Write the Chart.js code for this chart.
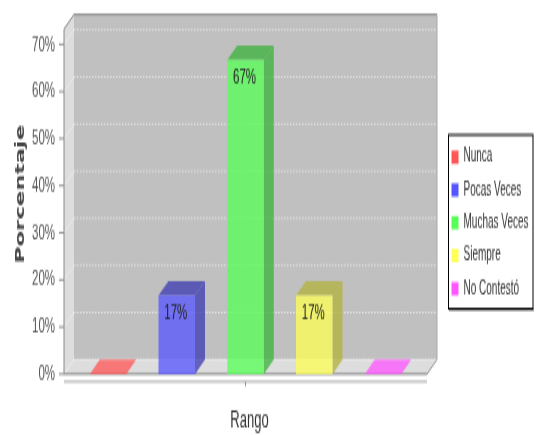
<!DOCTYPE html>
<html><head><meta charset="utf-8">
<style>
html,body{margin:0;padding:0;background:#fff;overflow:hidden;width:544px;height:435px}
canvas{display:block;transform-origin:0 0;transform:scale(1,1.8996);filter:blur(0.4px)}
</style>
<script src="https://cdn.jsdelivr.net/npm/chart.js@4"></script>
</head><body>
<canvas id="c" width="544" height="229"></canvas>
<script>
const categories = [""];
const seriesNames = ["Nunca", "Pocas Veces", "Muchas Veces", "Siempre", "No Contestó"];
const nunca = [0];
const pocasVeces = [16.67];
const muchasVeces = [66.67];
const siempre = [16.67];
const noContesto = [0];
const seriesValues = [nunca, pocasVeces, muchasVeces, siempre, noContesto];
const faceColors = ["rgba(255,85,85,.76)","rgba(85,85,255,.76)","rgba(85,255,85,.76)","rgba(255,255,85,.76)","rgba(255,85,255,.76)"];
const shadeColors = ["rgba(178,59,59,.76)","rgba(59,59,178,.76)","rgba(59,178,59,.76)","rgba(178,178,59,.76)","rgba(178,59,178,.76)"];
const legendColors = ["#ff5555","#5555ff","#55ff55","#ffff55","#ff55ff"];
const yTickStep = 10;

const DX = 10, DY = 7.63, PAD = 9.6;
const textFont = "'Liberation Sans'";

const scene = {
  id: 'scene',
  beforeLayout(chart) {
    const lg = chart.legend;
    if (!lg._wrapped) {
      const f = lg.fit;
      lg.fit = function () { f.call(this); this.width = 126.6; };
      lg._wrapped = true;
    }
  },
  beforeDraw(chart) {
    const y = chart.scales.y, x = chart.scales.x, lg = chart.legend;
    if (!y._shifted) {
      const origY = y.drawTitle;
      y.drawTitle = function () {
        const t = this.top; this.top = t - 8;
        origY.call(this);
        this.top = t;
      };
      const origX = x.drawTitle;
      x.drawTitle = function () {
        const l = this.left; this.left = l + 8;
        origX.call(this);
        this.left = l;
      };
      y._shifted = true;
    }
    lg.left = 444.2; lg.right = 544; lg.top = 70.4; lg.bottom = 165;
    const c = chart.ctx;
    c.save();
    c.fillStyle = '#fff';
    c.fillRect(448.5, 71, 84.5, 91.5);
    c.restore();
  },
  beforeDatasetsDraw(chart) {
    const c = chart.ctx, a = chart.chartArea, y = chart.scales.y;
    const L = a.left - PAD, R = a.right + PAD, B = a.bottom, T = a.top;
    const poly = (pts, fill) => {
      c.beginPath();
      pts.forEach((p, i) => i ? c.lineTo(p[0], p[1]) : c.moveTo(p[0], p[1]));
      c.closePath(); c.fillStyle = fill; c.fill();
    };
    const line = (x1, y1, x2, y2, col, w) => {
      c.beginPath(); c.moveTo(x1, y1); c.lineTo(x2, y2);
      c.strokeStyle = col; c.lineWidth = w || 1; c.stroke();
    };
    c.save();
    poly([[L + DX, T - DY], [R + DX, T - DY], [R + DX, B - DY], [L + DX, B - DY]], '#c0c0c0');
    poly([[L, T], [L + DX, T - DY], [L + DX, B - DY], [L, B]], '#dddddd');
    poly([[L, B], [L + DX, B - DY], [R + DX, B - DY], [R, B]], '#dddddd');

    y.ticks.forEach(t => {
      const p = y.getPixelForValue(t.value);
      c.setLineDash([1.5, 1.5]);
      line(L + DX, p - DY, R + DX, p - DY, '#f0f0f0', 0.7);
      c.setLineDash([]);
      line(L, p, L + DX, p - DY, '#eeeeee', 0.7);
      line(L - 5, p, L, p, '#777', 0.8);
    });

    line(L + DX, T - DY, R + DX, T - DY, '#888', 1);
    line(L, T, L + DX, T - DY, '#888', 1);
    line(L, T, L, B, '#888', 1);
    line(R + DX, T - DY, R + DX, B - DY, '#aaa', 1);
    line(R + DX, B - DY, R, B, '#999', 1);
    line(L, B, R, B, '#888', 1);

    line(L, B + 4, R, B + 4, '#aaa', 1);
    const xs = chart.scales.x;
    line(xs.getPixelForTick(0), B + 4, xs.getPixelForTick(0), B + 6.5, '#777', 0.8);

    chart.data.datasets.forEach((ds, i) => {
      const b = chart.getDatasetMeta(i).data[0];
      const hw = b.width / 2, x1 = b.x - hw, x2 = b.x + hw;
      if (ds.data[0] === 0) {
        poly([[x1, b.base], [x1 + DX, b.base - DY], [x2 + DX, b.base - DY], [x2, b.base]], faceColors[i]);
      } else {
        poly([[x2, b.y], [x2 + DX, b.y - DY], [x2 + DX, b.base - DY], [x2, b.base]], shadeColors[i]);
        poly([[x1, b.y], [x1 + DX, b.y - DY], [x2 + DX, b.y - DY], [x2, b.y]], shadeColors[i]);
      }
    });
    c.restore();
  },
  afterDatasetsDraw(chart) {
    const c = chart.ctx;
    c.save();
    c.font = "11.5px " + textFont;
    c.fillStyle = '#222';
    c.textAlign = 'center';
    c.textBaseline = 'middle';
    chart.data.datasets.forEach((ds, i) => {
      if (!ds.data[0]) return;
      const b = chart.getDatasetMeta(i).data[0];
      c.fillText(Math.round(ds.data[0]) + '%', b.x - 1, b.y + 9.2);
    });
    c.strokeStyle = '#999';
    c.lineWidth = 1;
    c.beginPath(); c.moveTo(449, 163.3); c.lineTo(534, 163.3); c.stroke();
    c.strokeStyle = '#000';
    c.lineWidth = 1;
    c.strokeRect(448.5, 71, 84.5, 91.5);
    c.restore();
  }
};

new Chart(document.getElementById('c'), {
  type: 'bar',
  data: {
    labels: categories,
    datasets: seriesNames.map((n, i) => ({
      label: n,
      data: seriesValues[i],
      backgroundColor: seriesValues[i][0] === 0 ? 'rgba(0,0,0,0)' : faceColors[i],
      borderWidth: 0,
      categoryPercentage: 1,
      barPercentage: 0.531
    }))
  },
  plugins: [scene],
  options: {
    responsive: false,
    animation: false,
    devicePixelRatio: 1,
    layout: { padding: { top: 15.3, left: 0, right: 0, bottom: 0 } },
    plugins: {
      tooltip: { enabled: false },
      legend: {
        position: 'right',
        align: 'start',
        labels: {
          boxWidth: 7, boxHeight: 7, padding: 7.3,
          color: '#333',
          font: { family: textFont, size: 10 },
          generateLabels: chart => seriesNames.map((n, i) => ({
            text: n, fillStyle: legendColors[i], strokeStyle: legendColors[i],
            lineWidth: 0, datasetIndex: i, fontColor: '#333'
          }))
        }
      }
    },
    scales: {
      x: {
        afterFit: s => { s.height = 32.1; s.paddingLeft = 0; s.paddingRight = 0; },
        grid: { display: false, drawTicks: false },
        border: { display: false },
        ticks: { display: false },
        title: { display: true, text: 'Rango', color: '#333',
                 font: { family: textFont, size: 13 }, padding: { top: 0, bottom: 0 } }
      },
      y: {
        min: 0, max: 73.25,
        afterFit: s => { s.width = 73.6; s.paddingTop = 0; s.paddingBottom = 0; },
        grid: { display: false, drawTicks: false },
        border: { display: false },
        ticks: { stepSize: yTickStep, includeBounds: false, padding: 18.6, color: '#555',
                 font: { family: textFont, size: 11.5 }, callback: v => v + '%' },
        title: { display: true, text: 'Porcentaje', color: '#444',
                 font: { family: "'DejaVu Sans'", size: 12, weight: 'bold' }, padding: { top: 13.5, bottom: 0 } }
      }
    }
  }
});
</script>
</body></html>
